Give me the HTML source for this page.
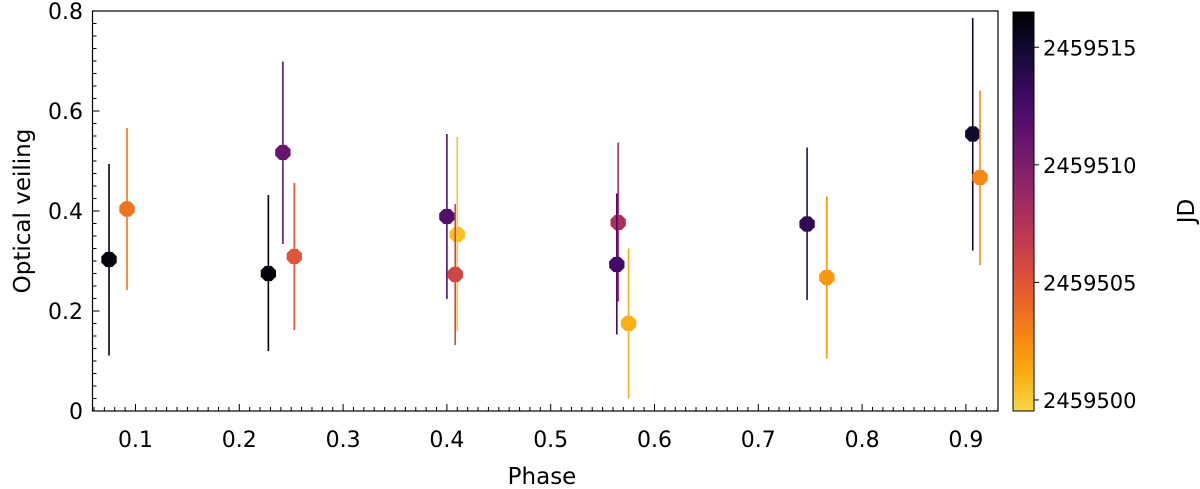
<!DOCTYPE html>
<html><head><meta charset="utf-8"><style>
html,body{margin:0;padding:0;background:#fff;width:1200px;height:489px;overflow:hidden}
svg text{font-family:"DejaVu Sans","Liberation Sans",sans-serif;fill:#000}
</style></head><body>
<svg id="chart" width="1200" height="489" viewBox="0 0 1200 489" xmlns="http://www.w3.org/2000/svg">
<defs><linearGradient id="cbgrad" x1="0" y1="1" x2="0" y2="0"></linearGradient></defs>
<g id="plot"></g>
<text x="542" y="484" font-size="23" text-anchor="middle">Phase</text>
<text transform="translate(30,211) rotate(-90)" font-size="23" text-anchor="middle">Optical veiling</text>
<text transform="translate(1194,211) rotate(-90)" font-size="23" text-anchor="middle">JD</text>
</svg>
<script>
const phases = [0.0745,0.0918,0.228,0.242,0.253,0.400,0.410,0.408,0.565,0.5637,0.575,0.747,0.766,0.9066,0.9136];
const veiling = [0.303,0.404,0.275,0.517,0.309,0.389,0.353,0.273,0.377,0.293,0.175,0.374,0.267,0.554,0.467];
const errHigh = [0.494,0.566,0.432,0.699,0.456,0.554,0.548,0.414,0.537,0.435,0.325,0.527,0.429,0.786,0.641];
const errLow = [0.111,0.242,0.120,0.334,0.162,0.224,0.159,0.132,0.219,0.153,0.025,0.222,0.105,0.321,0.292];
const jd = [2459516.2,2459503.5,2459516.3,2459511,2459505,2459512,2459500.4,2459506,2459507.8,2459512.7,2459501,2459513.5,2459502,2459515,2459502.6];
const xTicks = [0.1,0.2,0.3,0.4,0.5,0.6,0.7,0.8,0.9];
const yTicks = [0,0.2,0.4,0.6,0.8];
const yTickLabels = ["0","0.2","0.4","0.6","0.8"];
const cbTicks = [2459500,2459505,2459510,2459515];

const NS="http://www.w3.org/2000/svg";
const L=92.5,R=998,T=11,B=411;
const xMin=0.1-(135.5-L)/1038, xMax=0.1+(R-135.5)/1038;
const xs=p=>L+(p-xMin)/(xMax-xMin)*(R-L);
const ys=v=>B-(v-0)/(0.8-0)*(B-T);
const jdMin=2459499.53, jdMax=2459516.5;
const cbL=1013,cbR=1034,cbT=12,cbB=411;
const cy=j=>cbB-(j-jdMin)/(jdMax-jdMin)*(cbB-cbT);
const inf=[[0,0,4],[22,11,57],[66,10,104],[106,23,110],[147,38,103],[188,55,84],[221,81,58],[243,120,25],[252,165,10],[246,215,70]];
function cmap(j){let t=(j-jdMin)/(jdMax-jdMin);t=Math.max(0,Math.min(1,t));let s=(1-t)*(inf.length-1);let i=Math.min(Math.floor(s),inf.length-2),f=s-i;
const c=inf[i].map((a,k)=>Math.round(a+(inf[i+1][k]-a)*f));return `rgb(${c[0]},${c[1]},${c[2]})`;}
function mk(tag,attrs,parent){const e=document.createElementNS(NS,tag);for(const k in attrs)e.setAttribute(k,attrs[k]);parent.appendChild(e);return e;}
const svg=document.getElementById('chart'),plot=document.getElementById('plot');
for(let i=6;i<=92;i++){const p=i/100;const x=xs(p);if(x<L||x>R)continue;const major=i%10===0;
 const t=mk('line',{x1:x,x2:x,y1:B,y2:B-(major?7:4),stroke:'#000','stroke-width':1},plot);
 }
for(let i=0;i<=32;i++){const v=i*0.025;const y=ys(v);const major=i%8===0;
 const t=mk('line',{x1:L,x2:L+(major?7:4),y1:y,y2:y,stroke:'#000','stroke-width':1},plot);
 }
xTicks.forEach(p=>{const t=mk('text',{x:xs(p),y:447,'font-size':22,'text-anchor':'middle'},svg);t.textContent=String(p);
 });
yTicks.forEach((v,i)=>{const t=mk('text',{x:83,y:ys(v)+8,'font-size':22,'text-anchor':'end'},svg);t.textContent=yTickLabels[i];
 });
phases.forEach((p,i)=>{const c=cmap(jd[i]);const x=xs(p);
 const g=mk('g',{},plot);
 const eb=mk('line',{x1:x,x2:x,y1:ys(errHigh[i]),y2:ys(errLow[i]),stroke:c,'stroke-width':1.6},g);
 
 const y=ys(veiling[i]);let pts=[];for(let k=0;k<8;k++){const a=Math.PI/8+k*Math.PI/4;pts.push((x+8.3*Math.cos(a)).toFixed(2)+','+(y+8.3*Math.sin(a)).toFixed(2));}
 const m=mk('polygon',{points:pts.join(' '),fill:c},g);});
const frame=mk('rect',{x:L,y:T,width:R-L,height:B-T,fill:'none',stroke:'#000','stroke-width':1.2},plot);

const grad=document.getElementById('cbgrad');
for(let k=0;k<=20;k++){const j=jdMin+(jdMax-jdMin)*k/20;mk('stop',{offset:(k*5)+'%','stop-color':cmap(j)},grad);}
const cb=mk('rect',{x:cbL,y:cbT,width:cbR-cbL,height:cbB-cbT,fill:'url(#cbgrad)',stroke:'#000','stroke-width':1},svg);

cbTicks.forEach(j=>{const y=cy(j);
 const t=mk('line',{x1:cbR,x2:cbR+5,y1:y,y2:y,stroke:'#000','stroke-width':1},svg);
 const tx=mk('text',{x:cbR+9,y:y+8,'font-size':21},svg);tx.textContent=String(j);
 });
</script>
</body></html>
